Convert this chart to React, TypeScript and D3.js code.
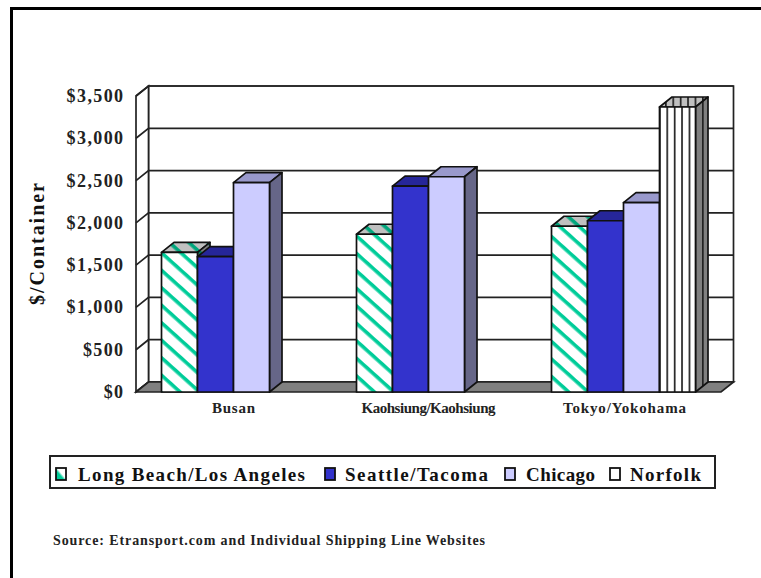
import React from "react";
import * as d3 from "d3";

const categories = ["Busan", "Kaohsiung/Kaohsiung", "Tokyo/Yokohama"];
const series = ["Long Beach/Los Angeles", "Seattle/Tacoma", "Chicago", "Norfolk"];
const longBeach = [1650, 1865, 1960];
const seattle = [1600, 2435, 2025];
const chicago = [2475, 2545, 2240];
const norfolk = [null, null, 3370];
const seriesValues: (number | null)[][] = [longBeach, seattle, chicago, norfolk];
const ticks = [0, 500, 1000, 1500, 2000, 2500, 3000, 3500];

const fronts = ["url(#hatchGreen)", "#3333cc", "#ccccff", "url(#vertFront)"];
const tops = ["url(#hatchTop)", "#262699", "#9999cc", "url(#vertTop)"];
const sides = ["url(#hatchSide)", "#262699", "#666688", "url(#vertSide)"];

const W = 761, H = 578;
const depthX = 12.5, depthY = 10;
const x = d3.scaleBand<string>().domain(categories).range([136, 721]);
const y = d3.scaleLinear().domain([0, 3500]).range([392, 96]);
const inner = d3.scaleBand<string>().domain(series).range([25.5, 169.5]);
const fmt = d3.format("$,");
const serif = "'Liberation Serif','Times New Roman',serif";
const lineW = 1.7;

function poly(pts: [number, number][]) {
  return d3.line()(pts) + "Z";
}

export default function App() {
  const x0 = 136, x1 = 721, y0 = y(0), yTop = y(3500);
  const legendItems = [
    { x: 56, tx: 78, len: 227 },
    { x: 325, tx: 345, len: 143 },
    { x: 505, tx: 526, len: 69 },
    { x: 610, tx: 630, len: 71 },
  ];
  const catLayout = [
    { cx: 233.5, len: 43 },
    { cx: 428.5, len: 134 },
    { cx: 624.5, len: 123 },
  ];
  return (
    <svg width={W} height={H} style={{ position: "absolute", left: 0, top: 0, background: "#fff" }} fontFamily={serif}>
      <defs>
        <pattern id="hatchGreen" width="13" height="13" patternUnits="userSpaceOnUse" patternTransform="rotate(42 0 0)">
          <rect width="13" height="13" fill="#fff" />
          <rect width="13" height="3.6" fill="#00cc99" />
        </pattern>
        <pattern id="hatchTop" width="13" height="13" patternUnits="userSpaceOnUse" patternTransform="rotate(42 0 0)">
          <rect width="13" height="13" fill="#c0c0c0" />
          <rect width="13" height="3.6" fill="#00a67c" />
        </pattern>
        <pattern id="hatchSide" width="13" height="13" patternUnits="userSpaceOnUse" patternTransform="rotate(42 0 0)">
          <rect width="13" height="13" fill="#808080" />
          <rect width="13" height="3.6" fill="#007a5c" />
        </pattern>
        <pattern id="vertFront" width="7.4" height="8" patternUnits="userSpaceOnUse" x="659">
          <rect width="7.4" height="8" fill="#fff" />
          <rect width="1.7" height="8" fill="#222" />
        </pattern>
        <pattern id="vertTop" width="7.4" height="8" patternUnits="userSpaceOnUse" x="665">
          <rect width="7.4" height="8" fill="#c0c0c0" />
          <rect width="1.7" height="8" fill="#222" />
        </pattern>
        <pattern id="vertSide" width="8" height="8" patternUnits="userSpaceOnUse" x="696">
          <rect width="8" height="8" fill="#808080" />
          <rect x="6" width="1.7" height="8" fill="#222" />
        </pattern>
        <linearGradient id="legendHatch" x1="0" y1="1" x2="1" y2="0">
          <stop offset="0.4" stopColor="#00cc99" />
          <stop offset="0.55" stopColor="#fff" />
        </linearGradient>
      </defs>

      <rect x={10} y={7} width={3} height={H - 7} fill="#000" />
      <rect x={10} y={7} width={W - 10} height={3} fill="#000" />

      {/* back wall and side wall */}
      <path d={poly([[x0 + depthX, yTop - depthY], [x1 + depthX, yTop - depthY], [x1 + depthX, y0 - depthY], [x0 + depthX, y0 - depthY]])} fill="#fff" stroke="#222" strokeWidth={lineW} />
      <path d={poly([[x0, yTop], [x0 + depthX, yTop - depthY], [x0 + depthX, y0 - depthY], [x0, y0]])} fill="#fff" stroke="#222" strokeWidth={lineW} />
      {ticks.map((t) => (
        <g key={t}>
          <path d={`M${x0},${y(t)}L${x0 + depthX},${y(t) - depthY}L${x1 + depthX},${y(t) - depthY}`} fill="none" stroke="#222" strokeWidth={lineW} />
          <text x={124.5} y={y(t) + 6} textAnchor="end" fontSize={18} fontWeight="bold" letterSpacing={1.4} fill="#222">{fmt(t)}</text>
        </g>
      ))}
      {/* floor */}
      <path d={poly([[x0, y0], [x0 + depthX, y0 - depthY], [x1 + depthX, y0 - depthY], [x1, y0]])} fill="#808080" stroke="#222" strokeWidth={lineW} />

      {/* bars */}
      {categories.map((c, ci) =>
        series.map((s, si) => {
          const v = seriesValues[si][ci];
          if (v == null) return null;
          const l = x(c)! + inner(s)!;
          const r = l + inner.bandwidth();
          const t = y(v);
          return (
            <g key={c + s} stroke="#111" strokeWidth={lineW} strokeLinejoin="round">
              <path d={poly([[l, t], [l + depthX, t - depthY], [r + depthX, t - depthY], [r, t]])} fill={tops[si]} />
              <path d={poly([[r, t], [r + depthX, t - depthY], [r + depthX, y0 - depthY], [r, y0]])} fill={sides[si]} />
              <rect x={l} y={t} width={r - l} height={y0 - t} fill={fronts[si]} />
            </g>
          );
        })
      )}

      {/* category labels */}
      {categories.map((c, i) => (
        <text key={c} x={catLayout[i].cx} y={413} textAnchor="middle" fontSize={15} fontWeight="bold" textLength={catLayout[i].len} lengthAdjust="spacing" fill="#222">{c}</text>
      ))}

      {/* y title */}
      <text transform="translate(44,244) rotate(-90)" textAnchor="middle" fontSize={20} fontWeight="bold" textLength={122} lengthAdjust="spacing" fill="#111">$/Container</text>

      {/* legend */}
      <rect x={50} y={456} width={665} height={32} fill="#fff" stroke="#222" strokeWidth={2} />
      {series.map((s, i) => (
        <g key={s}>
          <rect x={legendItems[i].x} y={468} width={10} height={12} fill={i === 0 ? "url(#legendHatch)" : i === 3 ? "#fff" : fronts[i]} stroke="#111" strokeWidth={1.8} />
          <text x={legendItems[i].tx} y={481} fontSize={19} fontWeight="bold" textLength={legendItems[i].len} lengthAdjust="spacing" fill="#111">{s}</text>
        </g>
      ))}

      {/* source */}
      <text x={53} y={545} fontSize={14} fontWeight="bold" textLength={432} lengthAdjust="spacing" fill="#222">Source:  Etransport.com and Individual Shipping Line Websites</text>
    </svg>
  );
}
